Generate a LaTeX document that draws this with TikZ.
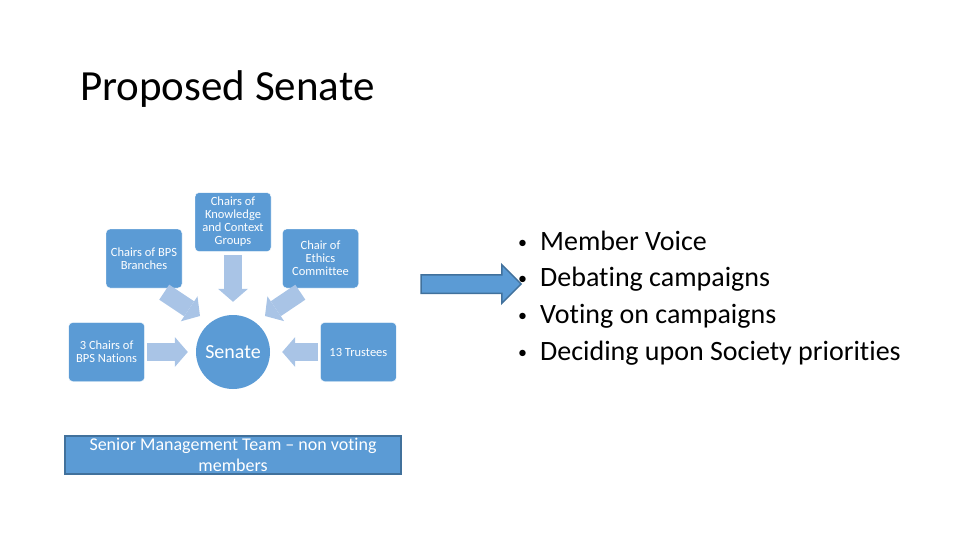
\documentclass[tikz,border=0pt]{standalone}
\usepackage{fontspec}
\setmainfont{Carlito}[Ligatures=NoCommon]
\usetikzlibrary{shapes,arrows.meta,positioning,calc}
\definecolor{boxblue}{HTML}{5B9BD5}
\definecolor{edgeblue}{HTML}{41719C}
\definecolor{paleblue}{HTML}{A9C4E6}
\newcommand{\dotitem}{\makebox[22pt][l]{\raisebox{2pt}{\fontsize{18}{18}\selectfont\textbullet}}}
\tikzset{
  >=Stealth,
  chair/.style={draw=white,rounded corners=4pt,fill=boxblue,text=white,align=center,minimum width=76pt,minimum height=59pt,inner sep=1pt,font=\fontsize{12.5}{13}\selectfont},
  hub/.style={circle,fill=boxblue,text=white,minimum size=74pt,inner sep=0pt,font=\fontsize{20}{24}\selectfont},
  feed/.style={draw=paleblue,line width=18pt,-{Triangle[line width=0pt,length=13pt,width=30pt]}},
  team/.style={draw=edgeblue,line width=1.5pt,fill=boxblue,text=white,align=center,minimum width=336pt,minimum height=38pt,inner sep=0pt,font=\fontsize{18}{21}\selectfont},
  bigarrow/.style={single arrow,draw=edgeblue,line width=1.5pt,fill=boxblue,minimum height=100pt,single arrow head extend=10pt,single arrow head indent=0pt,inner xsep=0pt,inner ysep=8.5pt}
}
\begin{document}
\begin{tikzpicture}[x=1pt,y=-1pt]
\useasboundingbox (0,0) rectangle (960,540);
\node[anchor=base west,inner sep=0pt,font=\fontsize{43}{50}\selectfont](title) at (80,101){Proposed Senate};
\node[hub](senate) at (233,352){Senate};
\node[chair,left=51pt of senate](nations){3 Chairs of\\BPS Nations};
\node[chair,right=50pt of senate](trustees){13 Trustees};
\node[chair,above=63pt of senate](know){Chairs of\\Knowledge\\and Context\\Groups};
\node[chair](branches) at (144,258.5){Chairs of BPS\\Branches};
\node[chair](ethics) at (320.5,258.5){Chair of\\Ethics\\Committee};
\node[team,below=46pt of senate](smt){Senior Management Team -- non voting\\members};
\draw[feed,shorten <=2pt,shorten >=8pt](nations.east) -- (nations.east -| senate.west);
\draw[feed,shorten <=2pt,shorten >=12pt](trustees.west) -- (trustees.west -| senate.east);
\draw[feed,shorten <=3pt,shorten >=13pt](know.south) -- (senate.north);
\draw[feed]($(branches.south east)+(-18,4)$) -- ($(senate.center)+(-33,-36)$);
\draw[feed]($(ethics.south west)+(18,4)$) -- ($(senate.center)+(32,-36)$);
\node[bigarrow](push) at (466.5,284){};
\node[anchor=west,align=left,inner sep=0pt,font=\fontsize{28}{36.7}\selectfont](roles) at (518,298){%
\dotitem Member Voice\\
\dotitem Debating campaigns\\
\dotitem Voting on campaigns\\
\dotitem Deciding upon Society priorities};
\end{tikzpicture}
\end{document}
